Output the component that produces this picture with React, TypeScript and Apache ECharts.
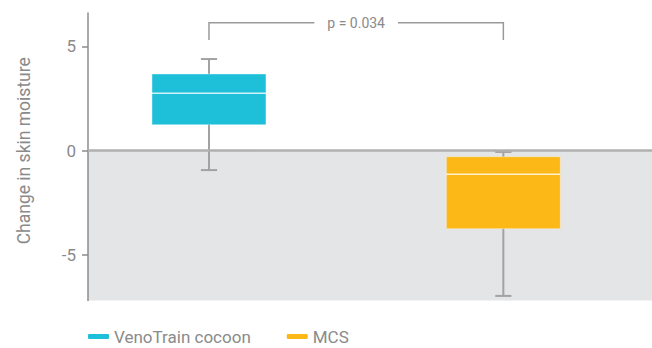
import React, { useEffect, useRef } from "react";
import * as echarts from "echarts";

const categories = ["VenoTrain cocoon", "MCS"];
const positions = [1, 2];
const mins = [-0.94, -6.98];
const q1s = [1.24, -3.75];
const medians = [2.75, -1.14];
const q3s = [3.67, -0.3];
const maxs = [4.39, -0.07];
const colors = ["#1dbfd9", "#fbb817"];
const yTicks = [-5, 0, 5];
const pLabel = "p = 0.034";
const bracket = [[1, 2, 6.13, 5.3]];

const FONT = "Roboto, 'Noto Sans', sans-serif";
const GREY_TEXT = "#8a8a8a";
const BOX_W = 0.387;
const CAP_W = 0.055;

function boxRender(params: any, api: any) {
  const x = api.value(0);
  const vMin = api.value(1);
  const vQ1 = api.value(2);
  const vMed = api.value(3);
  const vQ3 = api.value(4);
  const vMax = api.value(5);
  const bw = api.size([BOX_W, 0])[0];
  const cw = api.size([CAP_W, 0])[0];
  const pMin = api.coord([x, vMin]);
  const pMax = api.coord([x, vMax]);
  const pQ1 = api.coord([x, vQ1]);
  const pQ3 = api.coord([x, vQ3]);
  const pMed = api.coord([x, vMed]);
  const color = api.visual("color");
  const whisker = { stroke: "#a2a2a2", lineWidth: 2 };
  return {
    type: "group",
    children: [
      { type: "line", shape: { x1: pMin[0], y1: pMin[1], x2: pMax[0], y2: pMax[1] }, style: whisker },
      { type: "line", shape: { x1: pMin[0] - cw / 2, y1: pMin[1], x2: pMin[0] + cw / 2, y2: pMin[1] }, style: whisker },
      { type: "line", shape: { x1: pMax[0] - cw / 2, y1: pMax[1], x2: pMax[0] + cw / 2, y2: pMax[1] }, style: whisker },
      {
        type: "rect",
        shape: { x: pQ3[0] - bw / 2, y: pQ3[1], width: bw, height: pQ1[1] - pQ3[1] },
        style: { fill: color, stroke: "rgba(255,255,255,0.35)", lineWidth: 1 },
      },
      {
        type: "line",
        shape: { x1: pMed[0] - bw / 2, y1: pMed[1], x2: pMed[0] + bw / 2, y2: pMed[1] },
        style: { stroke: "rgba(255,255,255,0.8)", lineWidth: 1.5 },
      },
    ],
  };
}

function bracketRender(params: any, api: any) {
  const a = api.coord([api.value(0), api.value(2)]);
  const b = api.coord([api.value(1), api.value(2)]);
  const aLow = api.coord([api.value(0), api.value(3)]);
  const bLow = api.coord([api.value(1), api.value(3)]);
  return {
    type: "group",
    children: [
      {
        type: "polyline",
        shape: { points: [aLow, a, b, bLow] },
        style: { stroke: "#9a9a9a", lineWidth: 1.5, fill: null },
      },
      {
        type: "text",
        x: (a[0] + b[0]) / 2,
        y: a[1],
        style: {
          text: pLabel,
          fill: GREY_TEXT,
          font: `14px ${FONT}`,
          align: "center",
          verticalAlign: "middle",
          backgroundColor: "#ffffff",
          padding: [0, 13],
        },
      },
    ],
  };
}

export default function App() {
  const ref = useRef<HTMLDivElement>(null);
  useEffect(() => {
    if (!ref.current) return;
    const chart = echarts.init(ref.current, null, { renderer: "svg" });
    const boxSeries = categories.map((name, i) => ({
      name,
      type: "custom",
      renderItem: boxRender,
      itemStyle: { color: colors[i] },
      encode: { x: 0, y: [1, 2, 3, 4, 5] },
      data: [[positions[i], mins[i], q1s[i], medians[i], q3s[i], maxs[i]]],
      z: 2,
      ...(i === 0
        ? {
            markArea: {
              silent: true,
              itemStyle: { color: "#e4e5e7" },
              data: [[{ yAxis: -7.2 }, { yAxis: 0 }]],
            },
          }
        : {}),
    }));
    chart.setOption({
      animation: false,
      backgroundColor: "#ffffff",
      textStyle: { fontFamily: FONT },
      grid: { left: 88, right: 0, top: 13, bottom: 47.5 },
      legend: {
        data: categories,
        left: 88,
        top: 328,
        padding: 0,
        icon: "roundRect",
        itemWidth: 21,
        itemHeight: 5,
        itemGap: 36,
        textStyle: { fontSize: 17, color: GREY_TEXT, fontFamily: FONT },
      },
      xAxis: {
        type: "value",
        min: 0.589,
        max: 2.505,
        z: 3,
        axisLine: { show: true, onZero: true, lineStyle: { color: "#b0b0b0", width: 2.5 } },
        axisTick: { show: false },
        axisLabel: { show: false },
        splitLine: { show: false },
      },
      yAxis: {
        type: "value",
        min: -7.2,
        max: 6.6,
        z: 3,
        name: "Change in skin moisture",
        nameLocation: "middle",
        nameGap: 55,
        nameTextStyle: { fontSize: 17.5, color: GREY_TEXT, fontFamily: FONT, padding: [0, 0, 0, 12] },
        axisLine: { show: true, onZero: false, lineStyle: { color: "#8c8c8c", width: 1.5 } },
        axisTick: { show: true, length: 6, customValues: yTicks, lineStyle: { color: "#8c8c8c", width: 1.5 } },
        axisLabel: { customValues: yTicks, fontSize: 17, color: GREY_TEXT, margin: 12, fontFamily: FONT },
        splitLine: { show: false },
      },
      series: [
        ...boxSeries,
        {
          name: "bracket",
          type: "custom",
          renderItem: bracketRender,
          encode: { x: [0, 1], y: [2, 3] },
          data: bracket,
          z: 4,
        },
      ],
    });
    return () => chart.dispose();
  }, []);
  return <div ref={ref} style={{ width: 652, height: 348, position: "absolute", left: 0, top: 0 }} />;
}
